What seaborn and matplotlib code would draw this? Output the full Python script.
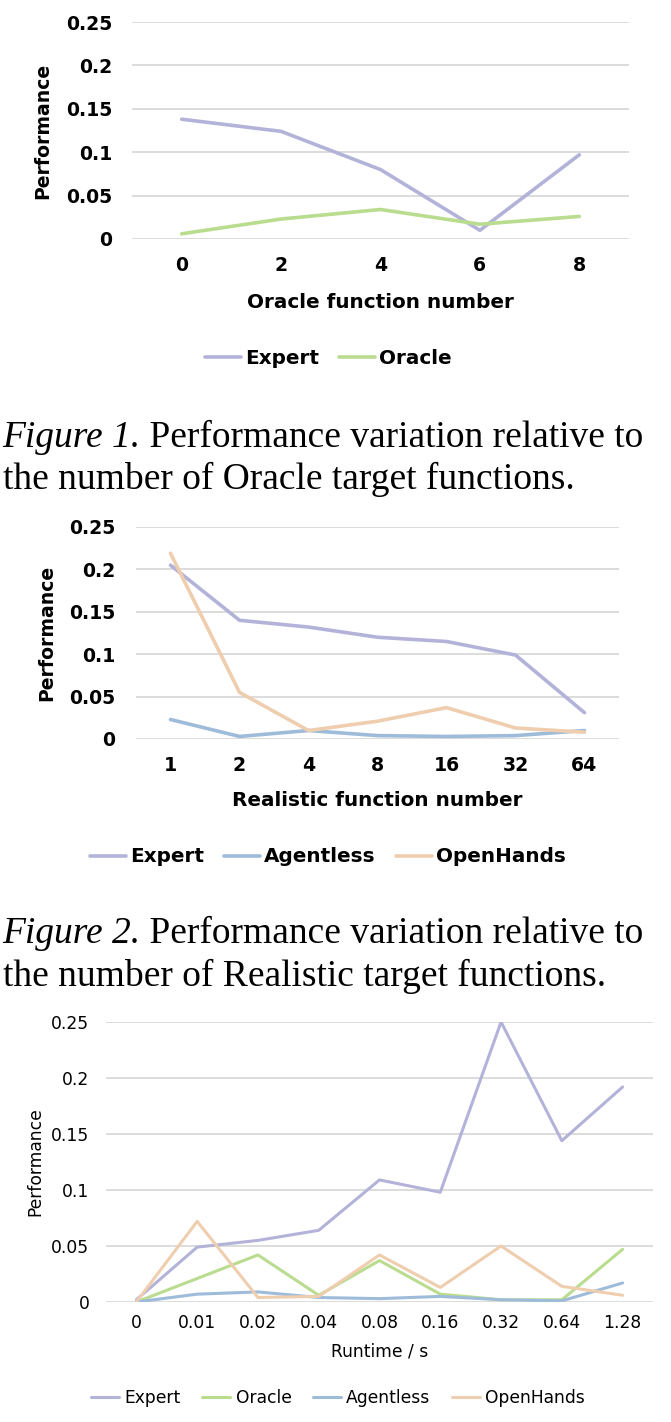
import matplotlib
matplotlib.use("Agg")
import matplotlib.pyplot as plt
from matplotlib.text import Annotation
import pandas as pd
import seaborn as sns

# ---- data ----
oracle_x = ["0", "2", "4", "6", "8"]
oracle_expert = [0.138, 0.124, 0.080, 0.010, 0.097]
oracle_oracle = [0.006, 0.023, 0.034, 0.017, 0.026]

real_x = ["1", "2", "4", "8", "16", "32", "64"]
real_expert = [0.205, 0.140, 0.132, 0.120, 0.115, 0.099, 0.031]
real_agentless = [0.023, 0.003, 0.010, 0.004, 0.003, 0.004, 0.010]
real_openhands = [0.219, 0.055, 0.010, 0.021, 0.037, 0.013, 0.008]

rt_x = ["0", "0.01", "0.02", "0.04", "0.08", "0.16", "0.32", "0.64", "1.28"]
rt_expert = [0.002, 0.049, 0.055, 0.064, 0.109, 0.098, 0.250, 0.144, 0.192]
rt_oracle = [0.000, 0.021, 0.042, 0.006, 0.037, 0.007, 0.002, 0.002, 0.047]
rt_agentless = [0.000, 0.007, 0.009, 0.004, 0.003, 0.005, 0.002, 0.001, 0.017]
rt_openhands = [0.000, 0.072, 0.004, 0.005, 0.042, 0.013, 0.050, 0.014, 0.006]

yticks = [0, 0.05, 0.1, 0.15, 0.2, 0.25]
ytick_labels = ["0", "0.05", "0.1", "0.15", "0.2", "0.25"]

colors = {"Expert": "#B3B3DA", "Oracle": "#B9DC8F",
          "Agentless": "#9EBCD9", "OpenHands": "#EFCDAF"}

sns.set_style("white")
plt.rcParams["font.family"] = ["DejaVu Sans"]
for key in ["text.color", "axes.labelcolor", "xtick.color", "ytick.color"]:
    plt.rcParams[key] = "black"

W, H = 671, 1422
fig = plt.figure(figsize=(W / 100, H / 100), dpi=100)


def panel(box, x, series, xlabel, fs, lfs, weight, lw, ypad, xpad,
          ylabel_px, xlabel_px, legend_px, legend_cx, handlelen, textpad, colgap):
    left, top, right, bottom = box
    ax = fig.add_axes([left / W, 1 - bottom / H, (right - left) / W, (bottom - top) / H])
    df = pd.concat([pd.DataFrame({"x": x, "Performance": v, "series": name})
                    for name, v in series.items()], ignore_index=True)
    sns.lineplot(data=df, x="x", y="Performance", hue="series", palette=colors,
                 linewidth=lw, sort=False, ax=ax)
    ax.set_xlim(-0.5, len(x) - 0.5)
    ax.set_ylim(0, 0.25)
    ax.set_yticks(yticks)
    ax.set_yticklabels(ytick_labels)
    ax.grid(axis="y", color="#D9D9D9", linewidth=1.3)
    ax.grid(axis="x", visible=False)
    ax.set_axisbelow(True)
    sns.despine(ax=ax, left=True, bottom=True)
    ax.tick_params(axis="y", length=0, pad=ypad, labelsize=fs)
    ax.tick_params(axis="x", length=0, pad=xpad, labelsize=fs)
    for t in ax.get_xticklabels() + ax.get_yticklabels():
        t.set_fontweight(weight)

    hpx = bottom - top
    ax.set_xlabel(xlabel, fontsize=lfs, fontweight=weight)
    ax.xaxis.set_label_coords(0.5, (bottom - xlabel_px) / hpx)
    ax.xaxis.label.set_va("center")
    ax.set_ylabel("Performance", fontsize=fs, fontweight=weight)
    ax.yaxis.set_label_coords((ylabel_px - left) / (right - left), 0.5)
    ax.yaxis.label.set_va("center")

    sns.move_legend(ax, "center",
                    bbox_to_anchor=((legend_cx - left) / (right - left), (bottom - legend_px) / hpx),
                    ncol=len(series), frameon=False, title=None,
                    prop={"size": lfs, "weight": weight},
                    handlelength=handlelen, handletextpad=textpad, columnspacing=colgap)
    for h in ax.get_legend().legend_handles:
        h.set_linewidth(lw)
    return ax


def caption(num, rest1, line2, base1_px, base2_px):
    fs = 27
    t1 = fig.text(2 / W, 1 - base1_px / H, f"Figure {num}.", fontsize=fs,
                  family="Liberation Serif", style="italic", va="baseline")
    ann = Annotation(" " + rest1, xy=(1, 0), xycoords=t1, fontsize=fs,
                     family="Liberation Serif", va="bottom", ha="left")
    fig.add_artist(ann)
    fig.text(3 / W, 1 - base2_px / H, line2, fontsize=fs,
             family="Liberation Serif", va="baseline")


panel((132, 22, 629, 239), oracle_x,
      {"Expert": oracle_expert, "Oracle": oracle_oracle},
      "Oracle function number", 13.6, 14.4, "bold", 2.6, 14, 12,
      43, 302, 358, 328, 1.8, 0.2, 1.0)
caption(1, "Performance variation relative to",
        "the number of Oracle target functions.", 447, 489)

panel((136, 527, 619, 739), real_x,
      {"Expert": real_expert, "Agentless": real_agentless, "OpenHands": real_openhands},
      "Realistic function number", 13.6, 14.4, "bold", 2.6, 15, 12,
      47, 800, 857, 328, 1.8, 0.2, 1.0)
caption(2, "Performance variation relative to",
        "the number of Realistic target functions.", 943, 986)

panel((106, 1022, 653, 1302), rt_x,
      {"Expert": rt_expert, "Oracle": rt_oracle,
       "Agentless": rt_agentless, "OpenHands": rt_openhands},
      "Runtime / s", 12.3, 12.3, "normal", 2.2, 12, 8.5,
      35, 1351, 1398, 338, 1.65, 0.3, 1.25)

fig.savefig("out.png", dpi=100)
